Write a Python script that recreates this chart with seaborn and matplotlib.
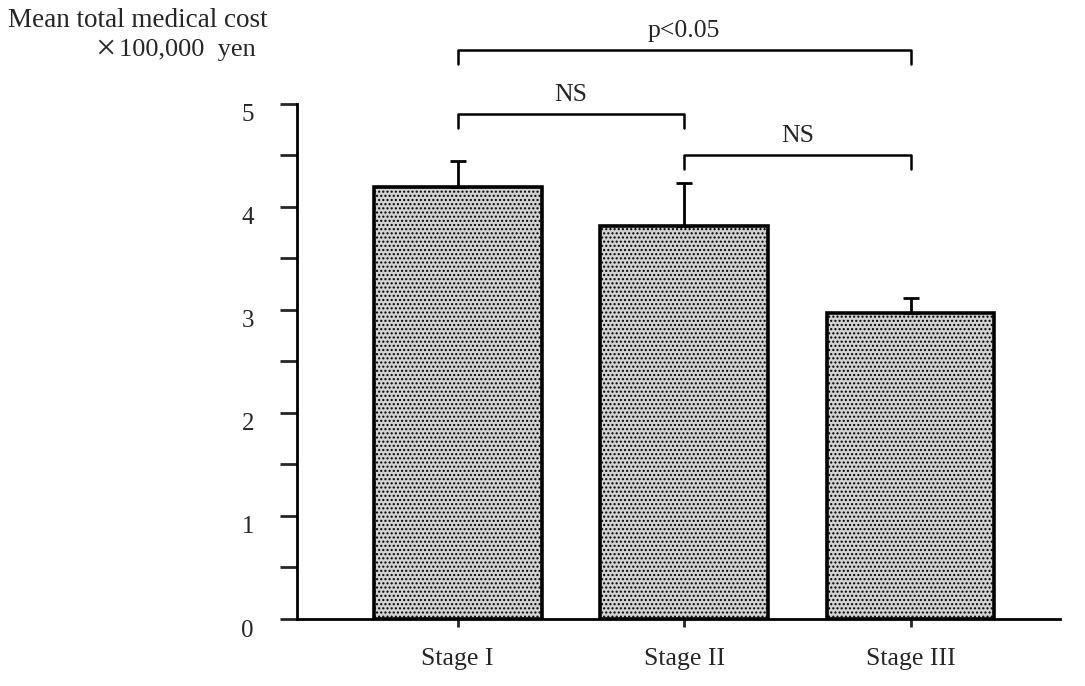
import numpy as np
import pandas as pd
import matplotlib
matplotlib.use("Agg")
import matplotlib.pyplot as plt
import matplotlib.transforms as mtransforms
import seaborn as sns

# --- data ---
stages = ["Stage I", "Stage II", "Stage III"]
mean_cost = [4.19, 3.81, 2.97]      # x 100,000 yen
sem_upper = [0.26, 0.42, 0.15]      # upper error bar only

# significance brackets: (left bar, right bar, height in data units, label)
brackets = [
    (0, 2, 5.52, "p<0.05"),
    (0, 1, 4.90, "NS"),
    (1, 2, 4.50, "NS"),
]

df = pd.DataFrame({"stage": stages, "cost": mean_cost})

sns.set_style("white")
plt.rcParams["font.family"] = ["Liberation Serif", "DejaVu Serif"]
plt.rcParams["hatch.color"] = "#4a4a4a"
plt.rcParams["hatch.linewidth"] = 1.0

fig = plt.figure(figsize=(10.85, 6.86), dpi=100)
ax = fig.add_axes([0.2737, 0.0977, 0.7033, 0.886])

sns.barplot(data=df, x="stage", y="cost", color="#d2d2d2", width=0.74,
            edgecolor="black", linewidth=2.6, ax=ax)
for p in ax.patches:
    p.set_hatch("....")

xs = np.arange(len(stages))
ax.errorbar(xs, mean_cost, yerr=[np.zeros(len(stages)), sem_upper],
            fmt="none", ecolor="black", elinewidth=2, capsize=6, capthick=2)

ax.set_xlim(-0.71, 2.66)
ax.set_ylim(0, 5.9)
ax.spines["top"].set_visible(False)
ax.spines["right"].set_visible(False)
ax.spines["left"].set_bounds(0, 5)
for s in ("left", "bottom"):
    ax.spines[s].set_linewidth(2)
    ax.spines[s].set_color("black")

ax.set_yticks(np.arange(0, 5.01, 0.5))
ax.set_yticklabels([str(int(v)) if v == int(v) else "" for v in np.arange(0, 5.01, 0.5)])
ax.tick_params(axis="y", direction="out", length=12, width=2, pad=19,
               labelsize=18, left=True)
ax.tick_params(axis="x", direction="out", length=6, width=2, pad=15,
               labelsize=18.5, bottom=True)
ax.set_xlabel("")
ax.set_ylabel("")

# labels sit a little below their ticks in the original
off = mtransforms.ScaledTranslation(0, -6.5 / 72, fig.dpi_scale_trans)
for lab in ax.get_yticklabels():
    lab.set_transform(lab.get_transform() + off)

# significance brackets
for x0, x1, h, txt in brackets:
    drop = 0.13
    ax.plot([x0, x0, x1, x1], [h - drop, h, h, h - drop], color="black",
            lw=1.8, clip_on=False)
    ax.text((x0 + x1) / 2, h + 0.08, txt, ha="center", va="bottom",
            fontsize=18.5, clip_on=False)

fig.text(0.007, 0.97, "Mean total medical cost", fontsize=19.5, ha="left", va="center")
fig.text(0.088, 0.927, "\u00d7", fontsize=26, ha="left", va="center")
fig.text(0.110, 0.927, "100,000  yen", fontsize=19, ha="left", va="center")

fig.savefig("out.png", dpi=100)
